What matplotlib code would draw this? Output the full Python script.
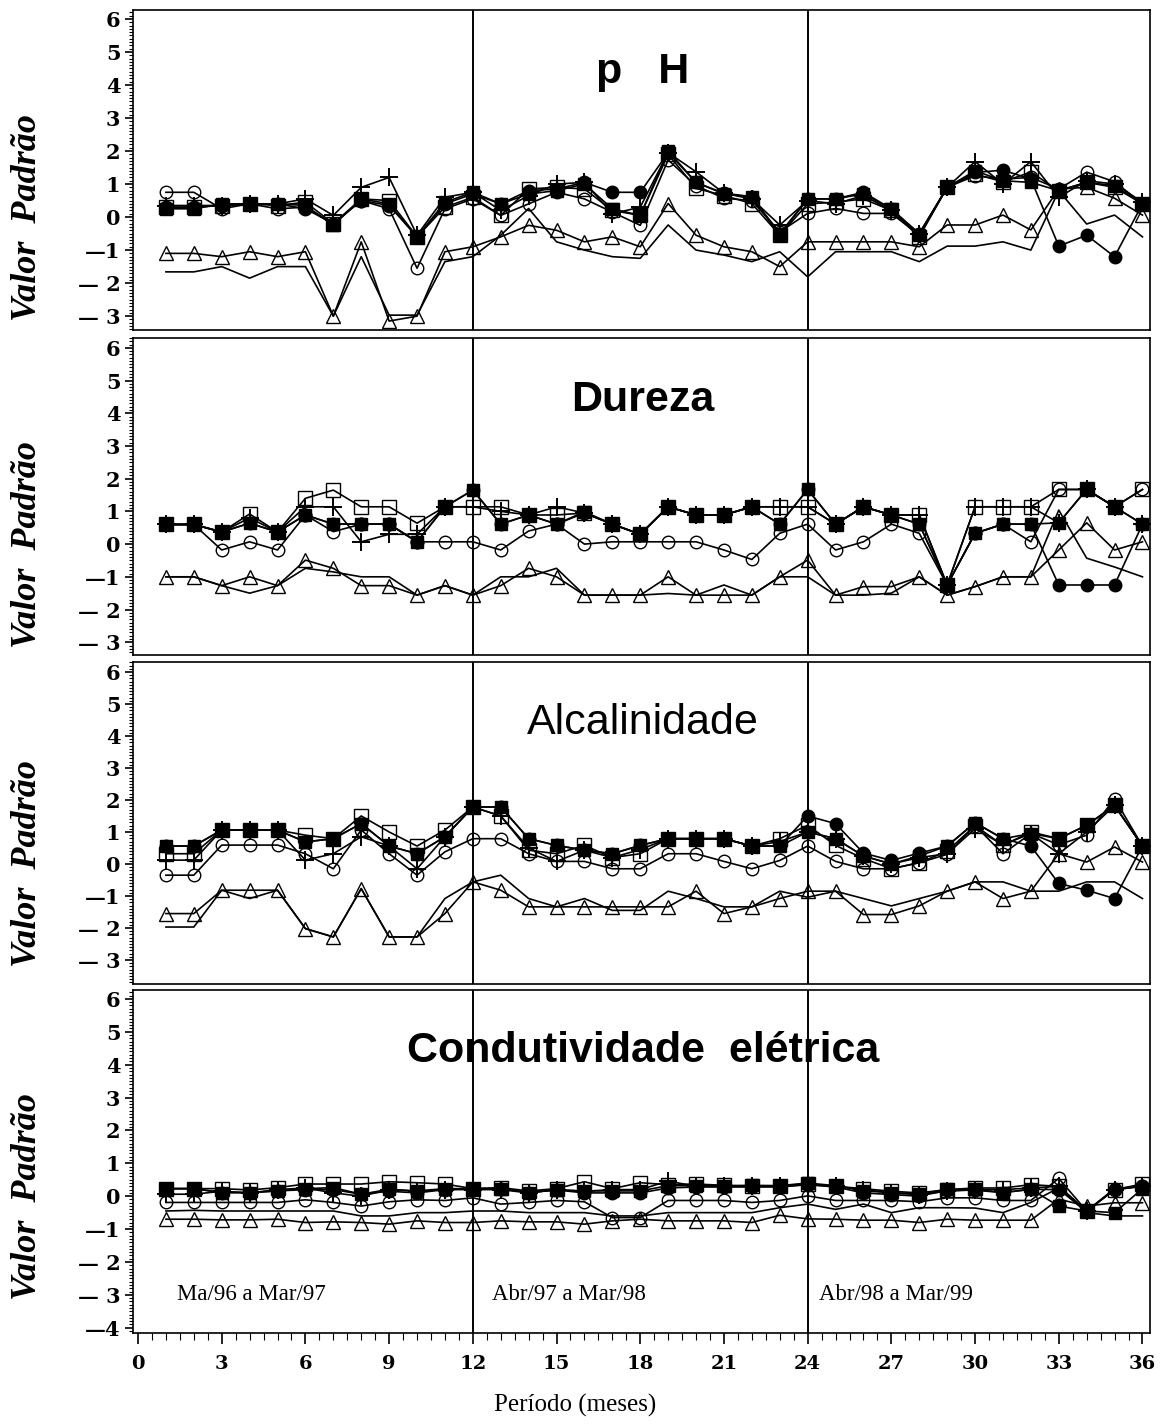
import numpy as np
import matplotlib
matplotlib.use("Agg")
import matplotlib.pyplot as plt
from matplotlib.ticker import MultipleLocator, FixedLocator, FixedFormatter
from matplotlib.transforms import blended_transform_factory
from matplotlib.font_manager import FontProperties

# meses do período (Mai/96 a Mar/99)
meses = np.arange(1, 37)

# ---- pH ----
ph_sq = [0.25, 0.25, 0.40, 0.40, 0.40, 0.35, -0.25, 0.55, 0.40, -0.60, 0.45, 0.75,
         0.40, 0.70, 0.80, 1.00, 0.25, 0.05, 2.00, 1.05, 0.70, 0.60, -0.55, 0.55,
         0.55, 0.70, 0.25, -0.55, 0.90, 1.40, 1.10, 1.05, 0.80, 1.05, 0.95, 0.40]
ph_fc = [0.30, 0.30, 0.35, 0.40, 0.40, 0.25, -0.20, 0.50, 0.35, -0.60, 0.40, 0.70,
         0.40, 0.80, 0.85, 1.05, 0.75, 0.75, 1.95, 1.05, 0.72, 0.62, -0.50, 0.55,
         0.55, 0.75, 0.25, -0.50, 0.90, 1.35, 1.42, 1.15, -0.88, -0.55, -1.20, 0.40]
ph_plus = [0.35, 0.35, 0.35, 0.40, 0.40, 0.55, 0.05, 0.90, 1.20, -0.55, 0.60, 0.75,
           0.20, 0.65, 1.00, 1.05, 0.10, 0.30, 1.95, 1.37, 0.72, 0.55, -0.24, 0.50,
           0.40, 0.65, 0.20, -0.50, 0.90, 1.68, 1.00, 1.68, 0.60, 1.10, 1.00, 0.45]
ph_osq = [0.30, 0.30, 0.35, 0.40, 0.35, 0.45, -0.20, 0.55, 0.50, -0.60, 0.30, 0.60,
          0.05, 0.85, 0.90, 0.85, 0.20, 0.05, 1.90, 0.87, 0.65, 0.41, -0.55, 0.40,
          0.45, 0.55, 0.20, -0.60, 0.90, 1.30, 1.07, 1.36, 0.80, 1.05, 0.90, 0.40]
ph_oc = [0.75, 0.75, 0.25, 0.40, 0.25, 0.30, -0.20, 0.50, 0.25, -1.55, 0.25, 0.55,
         0.05, 0.40, 0.75, 0.55, 0.15, -0.25, 1.73, 0.95, 0.57, 0.50, -0.45, 0.11,
         0.26, 0.11, 0.11, -0.55, 0.90, 1.25, 1.15, 1.20, 0.85, 1.36, 1.07, 0.40]
ph_tri = [-1.10, -1.10, -1.20, -1.05, -1.20, -1.05, -3.00, -0.75, -3.15, -3.00, -1.05, -0.90,
          -0.60, -0.25, -0.40, -0.75, -0.60, -0.90, 0.41, -0.55, -0.90, -1.05, -1.50, -0.75,
          -0.75, -0.75, -0.75, -0.90, -0.24, -0.24, 0.06, -0.39, 0.85, 0.90, 0.57, 0.06]
ph_lin = [-1.66, -1.66, -1.50, -1.85, -1.50, -1.50, -3.00, -1.20, -2.97, -2.97, -1.35, -1.20,
          -0.55, 0.26, -0.75, -1.00, -1.20, -1.25, -0.24, -1.00, -1.15, -1.35, -1.05, -1.81,
          -1.05, -1.05, -1.05, -1.35, -0.88, -0.88, -0.75, -1.00, 0.80, -0.21, 0.06, -0.60]

# ---- Dureza ----
du_sq = [0.60, 0.60, 0.37, 0.64, 0.37, 0.89, 0.61, 0.61, 0.61, 0.07, 1.14, 1.65,
         0.61, 0.89, 0.61, 0.99, 0.61, 0.30, 1.14, 0.89, 0.89, 1.14, 0.61, 1.67,
         0.61, 1.14, 0.89, 0.61, -1.25, 0.33, 0.61, 0.61, 0.65, 1.67, 1.14, 0.61]
du_fc = [0.60, 0.60, 0.37, 0.64, 0.37, 0.89, 0.61, 0.61, 0.61, 0.07, 1.14, 1.65,
         0.61, 0.89, 0.61, 0.95, 0.61, 0.30, 1.14, 0.89, 0.89, 1.14, 0.61, 1.67,
         0.61, 1.14, 0.89, 0.61, -1.25, 0.33, 0.61, 0.61, -1.25, -1.25, -1.25, 0.61]
du_plus = [0.60, 0.60, 0.37, 0.80, 0.37, 1.14, 1.14, 0.07, 0.30, 0.30, 1.14, 1.14,
           1.00, 0.89, 1.14, 0.95, 0.61, 0.30, 1.14, 0.89, 0.89, 1.14, 1.14, 1.14,
           0.61, 1.14, 0.89, 0.89, -1.25, 1.14, 1.14, 1.14, 0.65, 1.67, 1.14, 0.61]
du_osq = [0.60, 0.60, 0.37, 0.92, 0.37, 1.40, 1.65, 1.14, 1.14, 0.64, 1.14, 1.14,
          1.14, 0.89, 0.89, 0.95, 0.61, 0.30, 1.14, 0.89, 0.89, 1.14, 1.14, 1.14,
          0.61, 1.14, 0.89, 0.89, -1.25, 1.14, 1.14, 1.14, 1.67, 1.67, 1.14, 1.67]
du_oc = [0.60, 0.60, -0.18, 0.07, -0.18, 0.89, 0.38, 0.61, 0.61, 0.07, 0.07, 0.07,
         -0.18, 0.40, 0.61, 0.00, 0.07, 0.07, 0.07, 0.07, -0.18, -0.47, 0.33, 0.61,
         -0.18, 0.07, 0.61, 0.33, -1.25, 0.33, 0.61, 0.07, 1.67, 1.67, 1.14, 1.67]
du_tri = [-1.00, -1.00, -1.27, -1.00, -1.27, -0.49, -0.74, -1.27, -1.27, -1.56, -1.27, -1.56,
          -1.27, -0.74, -1.00, -1.56, -1.56, -1.56, -1.00, -1.56, -1.56, -1.56, -1.00, -0.49,
          -1.56, -1.30, -1.30, -1.00, -1.56, -1.30, -1.00, -1.00, -0.18, 0.65, -0.18, 0.07]
du_lin = [-1.00, -1.00, -1.27, -1.50, -1.27, -0.74, -0.85, -1.00, -1.00, -1.56, -1.27, -1.56,
          -1.00, -1.00, -0.74, -1.56, -1.56, -1.56, -1.51, -1.56, -1.25, -1.56, -1.00, -1.00,
          -1.56, -1.56, -1.50, -1.00, -1.56, -1.30, -1.00, -1.00, 1.04, -0.43, -0.70, -1.00]

# ---- Alcalinidade ----
al_sq = [0.56, 0.56, 1.06, 1.06, 1.06, 0.69, 0.79, 1.26, 0.56, 0.32, 0.85, 1.78,
         1.78, 0.79, 0.58, 0.43, 0.32, 0.58, 0.79, 0.79, 0.79, 0.56, 0.56, 1.00,
         0.79, 0.25, 0.00, 0.25, 0.56, 1.29, 0.79, 0.95, 0.79, 1.21, 1.83, 0.56]
al_fc = [0.56, 0.56, 1.06, 1.06, 1.06, 0.69, 0.79, 1.26, 0.56, 0.32, 0.85, 1.78,
         1.78, 0.79, 0.58, 0.43, 0.32, 0.58, 0.79, 0.79, 0.79, 0.56, 0.56, 1.50,
         1.26, 0.34, 0.11, 0.34, 0.56, 1.29, 0.79, 0.56, -0.61, -0.82, -1.08, 0.56]
al_plus = [0.12, 0.12, 1.06, 1.06, 1.06, 0.12, 0.32, 0.85, 0.56, -0.15, 0.85, 1.78,
           1.50, 0.50, 0.08, 0.43, 0.20, 0.45, 0.79, 0.79, 0.79, 0.56, 0.70, 1.00,
           0.79, 0.25, 0.00, 0.20, 0.32, 1.10, 0.60, 0.95, 0.32, 1.00, 1.83, 0.56]
al_osq = [0.32, 0.32, 1.06, 1.06, 1.06, 0.90, 0.79, 1.50, 1.00, 0.56, 1.06, 1.78,
          1.50, 0.43, 0.32, 0.58, 0.20, 0.32, 0.79, 0.79, 0.79, 0.56, 0.79, 1.21,
          0.58, 0.17, -0.15, 0.04, 0.40, 1.20, 0.58, 1.00, 0.79, 1.21, 1.83, 0.56]
al_oc = [-0.35, -0.35, 0.59, 0.59, 0.59, 0.32, -0.15, 1.06, 0.32, -0.35, 0.38, 0.79,
         0.79, 0.32, 0.08, 0.08, -0.15, -0.15, 0.32, 0.32, 0.08, -0.15, 0.11, 0.56,
         0.08, -0.15, -0.15, 0.04, 0.30, 1.20, 0.32, 0.95, 0.60, 0.90, 2.04, 0.56]
al_tri = [-1.55, -1.55, -0.82, -0.82, -0.82, -2.02, -2.28, -0.77, -2.28, -2.28, -1.55, -0.56,
          -0.82, -1.34, -1.34, -1.34, -1.34, -1.34, -1.34, -0.85, -1.55, -1.34, -1.08, -0.85,
          -0.85, -1.58, -1.58, -1.31, -0.85, -0.56, -1.08, -0.85, 0.32, 0.06, 0.53, 0.06]
al_lin = [-1.97, -1.97, -0.82, -1.08, -0.82, -2.02, -2.28, -0.77, -2.28, -2.28, -1.08, -0.56,
          -0.35, -1.08, -1.34, -1.08, -1.45, -1.45, -0.85, -1.08, -1.34, -1.34, -0.85, -1.04,
          -0.85, -1.08, -1.31, -1.08, -0.85, -0.56, -0.56, -0.85, -0.85, -0.56, -0.56, -1.08]

# ---- Condutividade elétrica ----
co_sq = [0.23, 0.23, 0.11, 0.11, 0.16, 0.23, 0.26, 0.06, 0.21, 0.16, 0.23, 0.23,
         0.23, 0.11, 0.19, 0.16, 0.16, 0.16, 0.32, 0.32, 0.32, 0.33, 0.32, 0.40,
         0.32, 0.16, 0.11, 0.06, 0.21, 0.21, 0.11, 0.21, -0.30, -0.45, -0.50, 0.23]
co_fc = [0.23, 0.23, 0.11, 0.11, 0.16, 0.20, 0.20, 0.06, 0.15, 0.10, 0.20, 0.23,
         0.23, 0.11, 0.19, 0.10, 0.10, 0.10, 0.25, 0.28, 0.28, 0.28, 0.28, 0.35,
         0.28, 0.10, 0.05, 0.00, 0.18, 0.18, 0.11, 0.21, 0.20, -0.45, 0.23, 0.30]
co_plus = [0.06, 0.06, 0.15, 0.10, 0.20, 0.25, 0.10, 0.00, 0.20, 0.15, 0.20, 0.20,
           0.20, 0.10, 0.20, 0.15, 0.20, 0.20, 0.46, 0.30, 0.30, 0.30, 0.30, 0.35,
           0.30, 0.20, 0.10, 0.05, 0.15, 0.20, 0.20, 0.25, 0.30, -0.45, 0.20, 0.30]
co_osq = [0.23, 0.23, 0.23, 0.19, 0.26, 0.37, 0.37, 0.37, 0.44, 0.41, 0.37, 0.23,
          0.26, 0.16, 0.23, 0.44, 0.23, 0.41, 0.35, 0.37, 0.33, 0.30, 0.32, 0.37,
          0.30, 0.23, 0.15, 0.10, 0.20, 0.25, 0.25, 0.35, 0.30, -0.45, 0.20, 0.37]
co_oc = [-0.19, -0.19, -0.19, -0.19, -0.19, -0.11, -0.19, -0.30, -0.17, -0.11, -0.13, -0.05,
         -0.24, -0.19, -0.13, -0.17, -0.65, -0.65, -0.13, -0.13, -0.13, -0.19, -0.13, 0.01,
         -0.13, -0.13, -0.13, -0.17, -0.05, -0.05, -0.13, -0.13, 0.54, -0.45, 0.20, 0.30]
co_tri = [-0.70, -0.70, -0.72, -0.72, -0.70, -0.80, -0.78, -0.80, -0.85, -0.75, -0.80, -0.80,
          -0.75, -0.78, -0.78, -0.85, -0.75, -0.70, -0.75, -0.75, -0.75, -0.80, -0.58, -0.69,
          -0.70, -0.73, -0.73, -0.80, -0.70, -0.73, -0.73, -0.73, -0.09, -0.30, -0.20, -0.20]
co_lin = [-0.45, -0.43, -0.45, -0.45, -0.45, -0.45, -0.45, -0.60, -0.60, -0.50, -0.50, -0.45,
          -0.45, -0.50, -0.50, -0.50, -0.60, -0.60, -0.50, -0.50, -0.50, -0.50, -0.35, -0.24,
          -0.40, -0.24, -0.50, -0.35, -0.35, -0.36, -0.50, -0.19, 0.25, -0.50, -0.60, -0.60]

paineis = [
    ("p   H", "bold", [ph_lin, ph_tri, ph_oc, ph_osq, ph_plus, ph_fc, ph_sq]),
    ("Dureza", "bold", [du_lin, du_tri, du_oc, du_osq, du_plus, du_fc, du_sq]),
    ("Alcalinidade", "normal", [al_lin, al_tri, al_oc, al_osq, al_plus, al_fc, al_sq]),
    ("Condutividade  elétrica", "bold", [co_lin, co_tri, co_oc, co_osq, co_plus, co_fc, co_sq]),
]

# estilo de cada série: linha simples, triângulo, círculo, quadrado, cruz, círculo cheio, quadrado cheio
estilos = [
    dict(marker=None),
    dict(marker="^", ms=10, mfc="none"),
    dict(marker="o", ms=9, mfc="none"),
    dict(marker="s", ms=9.5, mfc="none"),
    dict(marker="+", ms=13, mew=1.4),
    dict(marker="o", ms=9, mfc="black"),
    dict(marker="s", ms=9, mfc="black"),
]

W, H = 1166, 1427
fig = plt.figure(figsize=(W / 100, H / 100), dpi=100)

# posição (px) e limites de cada painel
caixas = [(10, 330), (338, 655), (662, 984), (990, 1333)]
ylims = [(-3.42, 6.27), (-3.39, 6.30), (-3.75, 6.31), (-4.16, 6.27)]
esq, dir_ = 133, 1150

tick_font = FontProperties(family="DejaVu Serif", weight="bold", size=15)
xtick_font = FontProperties(family="DejaVu Serif", weight="bold", size=14)

for i, ((titulo, peso, series), (topo, base), ylim) in enumerate(zip(paineis, caixas, ylims)):
    ax = fig.add_axes([esq / W, 1 - base / H, (dir_ - esq) / W, (base - topo) / H])
    for ys, st in zip(series, estilos):
        ax.plot(meses, ys, color="black", lw=1.2, mec="black", **st)
    ax.axvline(12, color="black", lw=1.4)
    ax.axvline(24, color="black", lw=1.4)
    ax.set_xlim(-0.18, 36.27)
    ax.set_ylim(*ylim)

    ymin = -4 if i == 3 else -3
    ticks = list(range(ymin, 7))
    nomes = []
    for t in ticks:
        if t >= 0:
            nomes.append(str(t))
        elif t == -1 or t == -4:
            nomes.append("\u2014" + str(-t))
        else:
            nomes.append("\u2014 " + str(-t))
    ax.yaxis.set_major_locator(FixedLocator(ticks))
    ax.yaxis.set_major_formatter(FixedFormatter(nomes))
    ax.yaxis.set_minor_locator(MultipleLocator(0.1))
    ax.tick_params(axis="y", which="major", direction="out", length=6, width=1.2, pad=3)
    ax.tick_params(axis="y", which="minor", direction="out", length=3, width=0.8)
    for lb in ax.get_yticklabels():
        lb.set_fontproperties(tick_font)

    if i == 3:
        ax.xaxis.set_major_locator(MultipleLocator(3))
        ax.xaxis.set_minor_locator(MultipleLocator(0.5))
        ax.tick_params(axis="x", which="major", direction="out", length=8, width=1.2, pad=8)
        ax.tick_params(axis="x", which="minor", direction="out", length=5, width=0.8)
        for lb in ax.get_xticklabels():
            lb.set_fontproperties(xtick_font)
        for xt, txt in [(1.4, "Ma/96 a Mar/97"), (12.7, "Abr/97 a Mar/98"), (24.4, "Abr/98 a Mar/99")]:
            ax.text(xt, -3.0, txt, ha="left", va="center", fontsize=16.5,
                    family="Liberation Serif")
    else:
        ax.set_xticks([])

    for sp in ax.spines.values():
        sp.set_linewidth(1.2)

    ax.text(18.1, 4.4, titulo, ha="center", va="center", fontsize=31,
            fontweight=peso, family="Liberation Sans")

    trans = blended_transform_factory(ax.transAxes, ax.transData)
    ax.text((28 - esq) / (dir_ - esq), 0.0, "Valor  Padrão", transform=trans,
            rotation=90, ha="center", va="center", fontsize=26,
            fontweight="bold", fontstyle="italic", family="Liberation Serif")

fig.text(575 / W, 1 - 1405 / H, "Período (meses)", ha="center", va="center",
         fontsize=18, family="Liberation Serif")

fig.savefig("out.png", dpi=100)
